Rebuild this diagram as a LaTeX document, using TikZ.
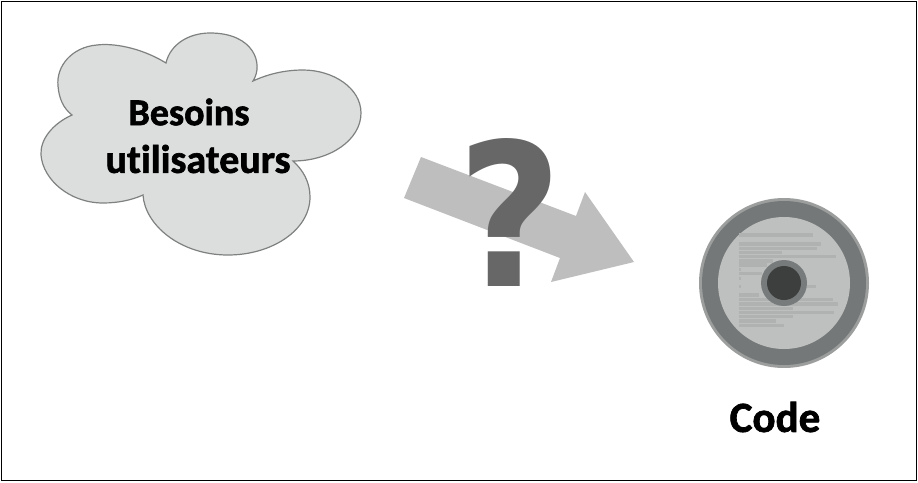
\documentclass[tikz,border=0pt]{standalone}
\usepackage{fontspec}
\setmainfont[Ligatures=NoCommon]{Carlito}
\newfontfamily\qfont{DejaVu Sans}
\newfontfamily\heavyfont[FakeBold=1.6,Ligatures=NoCommon]{Carlito Bold}
\definecolor{cloudfill}{HTML}{DCDDDD}
\definecolor{cloudline}{HTML}{7F8181}
\definecolor{arrowgrey}{HTML}{BDBEBD}
\definecolor{qgrey}{HTML}{666766}
\definecolor{discedge}{HTML}{9C9E9E}
\definecolor{discring}{HTML}{757878}
\definecolor{disclight}{HTML}{BEC0BF}
\definecolor{discline}{HTML}{B0B2B2}
\definecolor{hubring}{HTML}{787B7B}
\definecolor{hubdark}{HTML}{3D3E3E}
\tikzset{
  label text/.style={font=\heavyfont\fontsize{38}{40}\selectfont,text=black,inner sep=0pt},
  disc text/.style={draw=discline,line width=3.6pt},
}
\begin{document}
\begin{tikzpicture}[x=1pt,y=-1pt]
\useasboundingbox (0,0) rectangle (918,482);
\fill[white] (0,0) rectangle (918,482);
\draw[black,line width=1.3pt] (1.5,1.5) rectangle (916.5,480.5);
% cloud
\draw[fill=cloudfill,draw=cloudline,line width=1.2pt]
  (166,63) .. controls (140,47) and (112,43) .. (97,45)
  .. controls (72,47) and (56,66) .. (58,86)
  .. controls (59,98) and (63,108) .. (72,115)
  .. controls (52,124) and (40,140) .. (41,155)
  .. controls (43,180) and (70,203) .. (103,203)
  .. controls (118,203) and (132,200) .. (143,195)
  .. controls (145,225) and (180,255) .. (228,255)
  .. controls (272,255) and (310,230) .. (310,197)
  .. controls (310,182) and (303,170) .. (293,161)
  .. controls (330,161) and (361,140) .. (361,113)
  .. controls (361,88) and (333,70) .. (303,70)
  .. controls (285,70) and (268,74) .. (253,81)
  .. controls (264,64) and (254,33) .. (210,33)
  .. controls (188,33) and (170,45) .. (166,63) -- cycle;
\node[label text] (needs1) at (189,112) {Besoins};
\node[label text,font=\heavyfont\fontsize{40}{42}\selectfont] (needs2) at (198,159) {utilisateurs};
% arrow
\fill[arrowgrey] (421,157) -- (404,198) -- (560,258) -- (551,282) -- (634,262) -- (585,192) -- (576,216) -- cycle;
\node[inner sep=0pt,text=qgrey] (question) at (510,212)
  {\resizebox{105pt}{148pt}{\qfont\bfseries ?}};
% disc
\fill[discedge] (784,283) circle[radius=85];
\fill[discring] (784,283) circle[radius=82];
\fill[disclight] (784,283) circle[radius=66];
\begin{scope}[shift={(680,180)},x=0.33333pt,y=-0.33333pt]
\foreach \yy/\xa/\xb in {165/178/400,192/178/422,205/178/410,218/178/305,230/178/468,243/178/280,255/178/260,268/178/182,281/178/245,295/178/182,320/178/182,320/380/408,345/178/238,358/178/458,372/178/475,385/178/340,397/178/462,410/178/340,423/178/288,436/178/312}
  \draw[disc text] (\xa,\yy) -- (\xb,\yy);
\end{scope}
\fill[hubring] (784,283) circle[radius=23];
\fill[hubdark] (784,283) circle[radius=17];
\node[label text,font=\heavyfont\fontsize{43}{45}\selectfont] (code) at (775,417) {Code};
\end{tikzpicture}
\end{document}
